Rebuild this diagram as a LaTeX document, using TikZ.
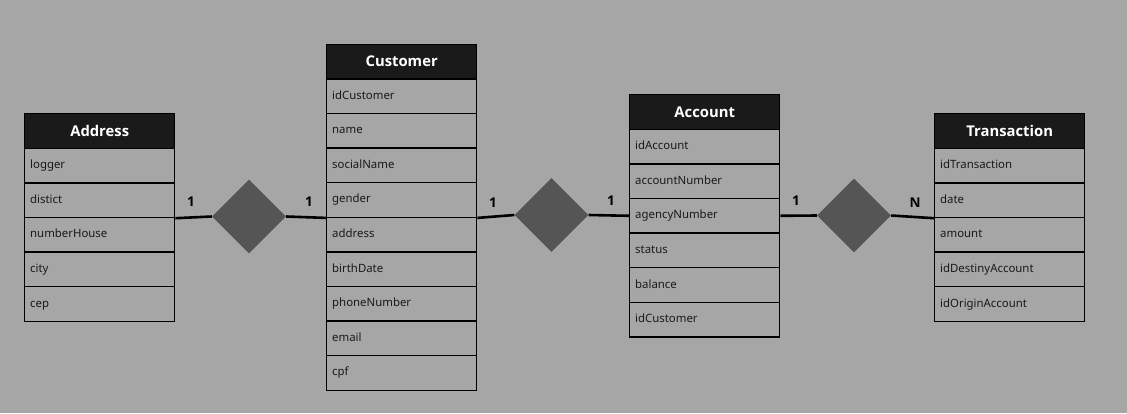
\documentclass[tikz,border=0pt]{standalone}
\usepackage{fontspec}
\setmainfont{Noto Sans}
\newfontfamily\headfont{Open Sans}
\usetikzlibrary{shapes.geometric}
\definecolor{bgc}{HTML}{A6A6A6}
\definecolor{hdc}{HTML}{1A1A1A}
\definecolor{dmc}{HTML}{555555}
\definecolor{txc}{HTML}{1A1A1A}
\tikzset{
  rowbox/.style={draw=black, line width=1.4pt, anchor=north west, minimum height=34.6pt,
    text width=139pt, inner xsep=5.5pt, inner ysep=0pt, align=left, text=txc,
    text height=8.6pt, text depth=2.6pt,
    font=\fontsize{11.4pt}{13pt}\selectfont},
  headbox/.style={draw=black, fill=hdc, line width=1.4pt, anchor=north west, minimum height=34.6pt,
    minimum width=150pt, inner sep=0pt, text=white,
    font=\headfont\bfseries\fontsize{14.8pt}{16pt}\selectfont},
  rel/.style={diamond, fill=dmc, minimum width=74pt, minimum height=74pt, inner sep=0pt},
  conn/.style={line width=2.6pt, black},
  card/.style={font=\headfont\bfseries\fontsize{13.5pt}{15pt}\selectfont, text=black, inner sep=0pt}
}
\begin{document}
\begin{tikzpicture}[x=1pt,y=-1pt]
\fill[bgc] (0,0) rectangle (1127,413);
\useasboundingbox (0,0) rectangle (1127,413);
% Address
\node[headbox] (addrH) at (24,113) {Address};
\foreach \t [count=\i] in {logger,distict,numberHouse,city,cep}
  \node[rowbox] (addr\i) at (24,{113+34.6*\i}) {\t};
% Customer
\node[headbox] (custH) at (326,43.5) {Customer};
\foreach \t [count=\i] in {idCustomer,name,socialName,gender,address,birthDate,phoneNumber,email,cpf}
  \node[rowbox] (cust\i) at (326,{43.5+34.6*\i}) {\t};
% Account
\node[headbox] (accH) at (629,94) {Account};
\foreach \t [count=\i] in {idAccount,accountNumber,agencyNumber,status,balance,idCustomer}
  \node[rowbox] (acc\i) at (629,{94+34.6*\i}) {\t};
% Transaction
\node[headbox] (trH) at (934,113) {Transaction};
\foreach \t [count=\i] in {idTransaction,date,amount,idDestinyAccount,idOriginAccount}
  \node[rowbox] (tr\i) at (934,{113+34.6*\i}) {\t};
% relationships
\node[rel] (d1) at (249,216.5) {};
\node[rel] (d2) at (551.5,215) {};
\node[rel] (d3) at (854,215.5) {};
\draw[conn] (addr2.south east) -- (d1.west);
\draw[conn] (d1.east) -- (cust4.south west);
\draw[conn] (cust4.south east) -- (d2.west);
\draw[conn] (d2.east) -- (acc3.west);
\draw[conn] (acc3.east) -- (d3.west);
\draw[conn] (d3.east) -- (tr2.south west);
% cardinalities
\node[card] (c1) at (191,202) {1};
\node[card] (c2) at (309,202) {1};
\node[card] (c3) at (493,203) {1};
\node[card] (c4) at (611,201) {1};
\node[card] (c5) at (796,201) {1};
\node[card] (c6) at (915,203) {N};
\end{tikzpicture}
\end{document}
